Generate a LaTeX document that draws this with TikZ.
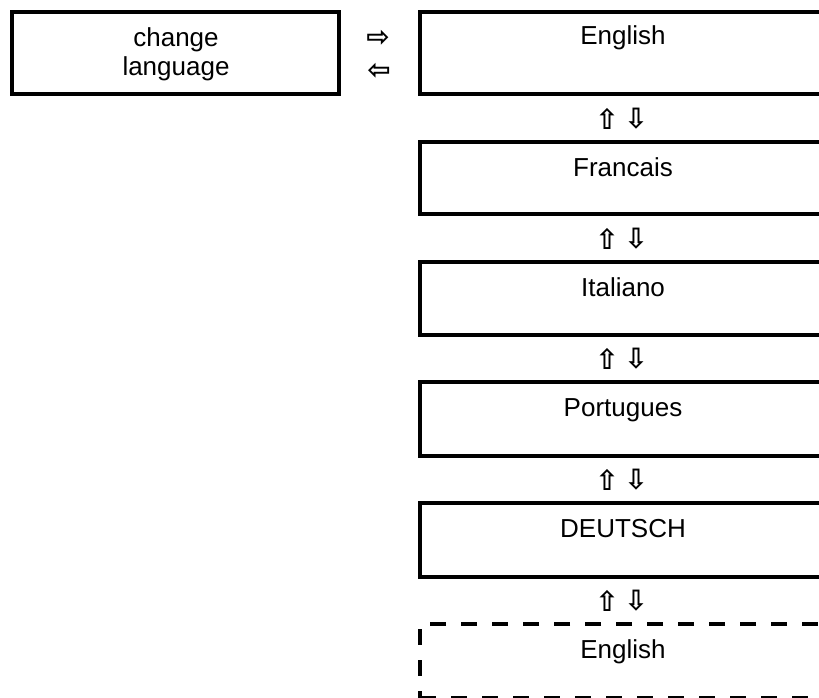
\documentclass[tikz,border=0pt]{standalone}
\usepackage{fontspec}
\setmainfont{Liberation Sans}
\newfontfamily\arrowfont{DejaVu Sans Bold}
\begin{document}
\begin{tikzpicture}[x=1pt,y=-1pt,
  box/.style={draw=black,line width=4pt,anchor=north west,inner sep=0pt,minimum width=#1},
  box/.default=410pt,
  dbox/.style={box,dash pattern=on 16pt off 15pt},
  lbl/.style={font=\fontsize{26}{29}\selectfont,anchor=base,inner sep=0pt},
  arr/.style={font=\arrowfont\fontsize{28}{28}\selectfont,inner sep=0pt,anchor=center}]
\useasboundingbox (0,0) rectangle (819,698);
\begin{scope}
\clip (0,0) rectangle (819,698);
% left box
\node[box=327pt,minimum height=82pt] (lb) at (10,10) {};
\node[lbl,align=center,anchor=center] (lt) at (176,54) {change\\language};
% right boxes
\node[box,minimum height=82pt] (b1) at (418,10) {};
\node[box,minimum height=72pt] (b2) at (418,140) {};
\node[box,minimum height=73pt] (b3) at (418,260) {};
\node[box,minimum height=74pt] (b4) at (418,380) {};
\node[box,minimum height=74pt] (b5) at (418,501) {};
\node[dbox,minimum height=74pt] (b6) at (418,622) {};
\node[lbl] (t1) at (623,45) {English};
\node[lbl] (t2) at (623,176) {Francais};
\node[lbl] (t3) at (623,296) {Italiano};
\node[lbl] (t4) at (623,416) {Portugues};
\node[lbl] (t5) at (623,537) {DEUTSCH};
\node[lbl] (t6) at (623,658) {English};
% arrows
\node[arr] (ar) at (378,38) {⇨};
\node[arr] (al) at (379,71) {⇦};
\foreach \y/\n in {119/1,239/2,359/3,480/4,601/5}{
  \node[arr] (u\n) at (607,\y) {⇧};
  \node[arr] (d\n) at (636,\y) {⇩};
}
\end{scope}
\end{tikzpicture}
\end{document}
